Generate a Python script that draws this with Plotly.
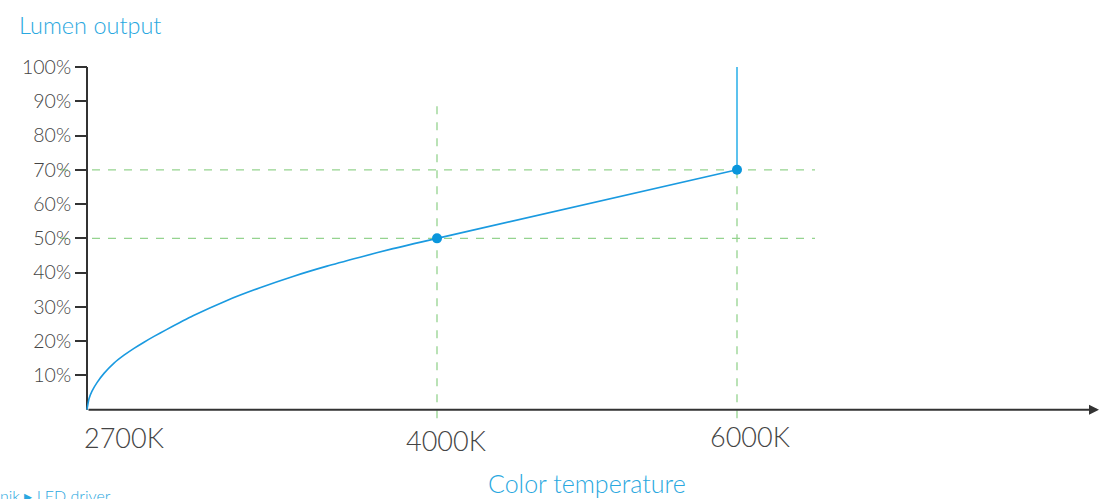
import plotly.graph_objects as go

# ---- data (x in relative axis units: 2700K = 0, 4000K = 3.5, 6000K = 6.5) ----
temp_labels = ["2700K", "4000K", "6000K"]
temp_pos = [0, 3.5, 6.5]

curve_x = [0, 0.02, 0.05, 0.10, 0.17, 0.27, 0.37, 0.47, 0.57, 0.67, 0.79,
           1.06, 1.40, 1.73, 2.06, 2.40, 2.73, 3.06, 3.5]
curve_y = [0, 3.2, 5.4, 7.9, 10.6, 13.6, 15.9, 17.9, 19.7, 21.4, 23.3,
           27.4, 31.9, 35.6, 38.9, 41.9, 44.5, 47.0, 50]

linear_x = [3.5, 6.5]
linear_y = [50, 70]

vertical_x = [6.5, 6.5]
vertical_y = [70, 100]

point_x = [3.5, 6.5]
point_y = [50, 70]

guide_levels = [50, 70]
guide_h_x = [-0.27, 7.28]
guide_v_top = [89, 70]
guide_v_bottom = -2.5

y_ticks = [10, 20, 30, 40, 50, 60, 70, 80, 90, 100]
y_ticktext = [f"{v}%" for v in y_ticks]

x_range = [-0.27, 10.13]
y_range = [-3, 100]

FONT = "Lato"
BLUE = "#2aa8e0"
LINE = "#1a9ae0"
GREEN = "#95d38f"
DARK = "#333333"
GRAY = "#444444"

fig = go.Figure()

# guides
for lv in guide_levels:
    fig.add_trace(go.Scatter(x=guide_h_x, y=[lv, lv], mode="lines",
                             line=dict(color=GREEN, width=1.3, dash="8px,8px"),
                             hoverinfo="skip", showlegend=False))
for xp, top in zip(temp_pos[1:], guide_v_top):
    fig.add_trace(go.Scatter(x=[xp, xp], y=[guide_v_bottom, top], mode="lines",
                             line=dict(color=GREEN, width=1.3, dash="8px,8px"),
                             hoverinfo="skip", showlegend=False))

# y axis line
fig.add_trace(go.Scatter(x=[0, 0], y=[0, 100], mode="lines",
                         line=dict(color=DARK, width=2),
                         hoverinfo="skip", showlegend=False))

# curves
fig.add_trace(go.Scatter(x=curve_x, y=curve_y, mode="lines",
                         line=dict(color=LINE, width=1.6, shape="spline", smoothing=0.6),
                         showlegend=False))
fig.add_trace(go.Scatter(x=linear_x, y=linear_y, mode="lines",
                         line=dict(color=LINE, width=1.6), showlegend=False))
fig.add_trace(go.Scatter(x=vertical_x, y=vertical_y, mode="lines",
                         line=dict(color="#5cc2ee", width=2), showlegend=False))
fig.add_trace(go.Scatter(x=point_x, y=point_y, mode="markers",
                         marker=dict(color="#0a96dc", size=10), showlegend=False))

annotations = []
# x axis with arrow
annotations.append(dict(x=x_range[1] - 0.01, y=0, ax=0, ay=0, xref="x", yref="y",
                        axref="x", ayref="y", text="", showarrow=True,
                        arrowhead=2, arrowsize=1, arrowwidth=2, arrowcolor=DARK))
# x tick labels (paper coords)
label_x = [0.0615, 0.371, 0.6635]
label_y = [-0.0496, -0.0567, -0.048]
for lab, lx, ly in zip(temp_labels, label_x, label_y):
    annotations.append(dict(x=lx, y=ly, xref="paper", yref="paper", text=lab,
                            xanchor="center", yanchor="middle", showarrow=False,
                            font=dict(family=FONT, size=27, color=GRAY, weight=300)))
annotations.append(dict(x=0.5067, y=-0.178, xref="paper", yref="paper",
                        text="Color temperature", xanchor="center", yanchor="middle",
                        showarrow=False,
                        font=dict(family=FONT, size=25, color=BLUE, weight=300)))
annotations.append(dict(x=-0.0414, y=1.119, xref="paper", yref="paper",
                        text="Lumen output", xanchor="left", yanchor="middle",
                        showarrow=False,
                        font=dict(family=FONT, size=23.5, color=BLUE, weight=300)))
annotations.append(dict(x=-0.0596, y=-0.181, xref="paper", yref="paper",
                        text="nik ▸ LED driver", xanchor="left", yanchor="top",
                        showarrow=False,
                        font=dict(family=FONT, size=16, color=BLUE, weight=300)))

fig.update_layout(
    width=1100, height=499,
    margin=dict(l=60, r=0, t=67, b=79),
    paper_bgcolor="white", plot_bgcolor="white",
    xaxis=dict(range=x_range, visible=False),
    yaxis=dict(range=y_range, anchor="free", position=27 / 1040,
               showline=False, showgrid=False, zeroline=False,
               tickvals=y_ticks, ticktext=y_ticktext,
               ticks="outside", ticklen=12, tickwidth=2, tickcolor=DARK,
               tickfont=dict(family=FONT, size=19.5, color=GRAY, weight=300)),
    annotations=annotations,
    showlegend=False,
)

fig.write_html("out.html", config={"displayModeBar": False},
               post_script="document.body.style.margin='0';document.body.style.overflow='hidden';")
